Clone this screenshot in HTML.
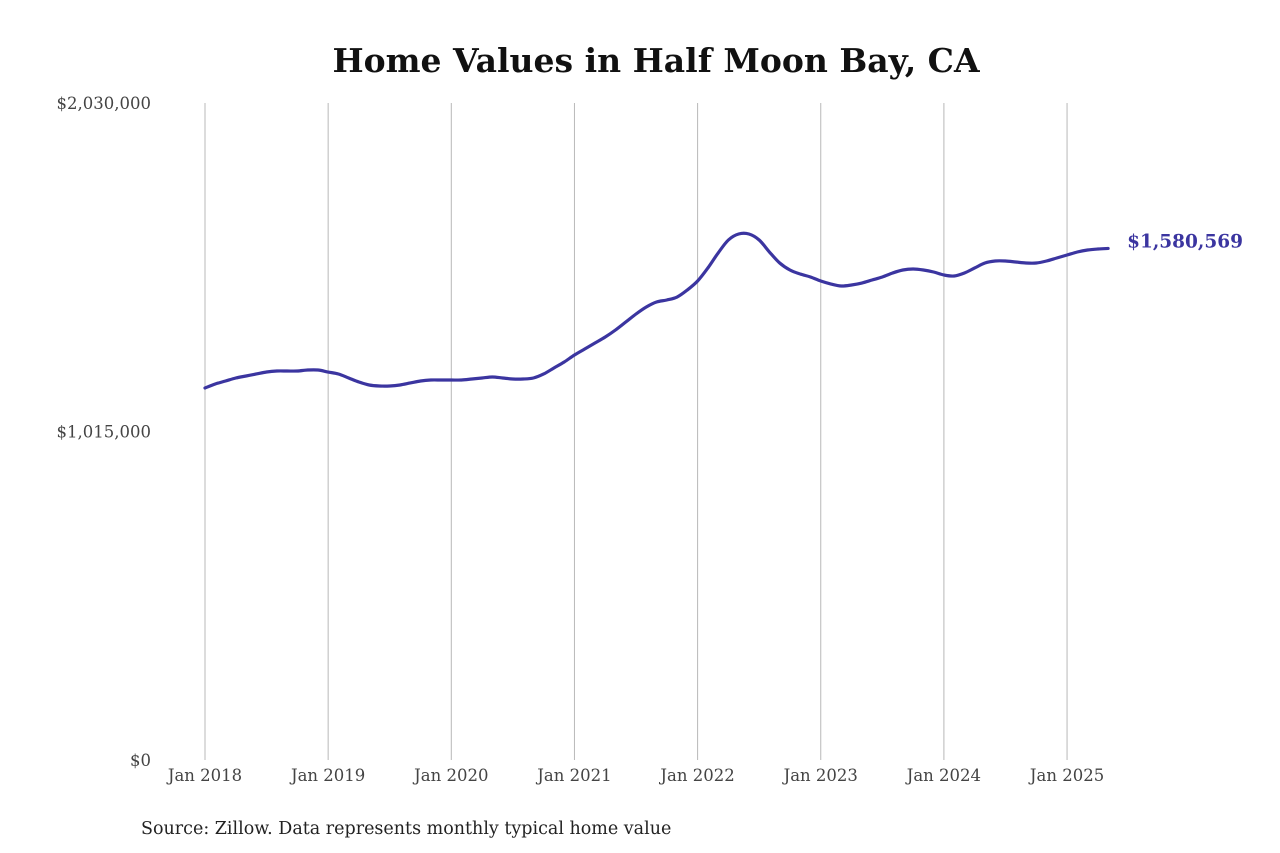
<!DOCTYPE html>
<html><head><meta charset="utf-8"><style>
body{margin:0;background:#fff;}
svg{display:block;font-family:"DejaVu Serif","Liberation Serif",serif;}
</style></head><body>
<svg width="1280" height="853" viewBox="0 0 1280 853">
<text x="656" y="72" text-anchor="middle" font-size="33" font-weight="bold" fill="#111">Home Values in Half Moon Bay, CA</text>
<g id="grid"></g>
<g id="yaxis"></g>
<g id="xaxis"></g>
<path id="line" fill="none" stroke="#3b35a0" stroke-width="3.2" stroke-linejoin="round" stroke-linecap="round"></path>
<text id="endlabel" font-size="18.5" font-weight="bold" fill="#3b35a0"></text>
<text x="141" y="834" font-size="17.5" fill="#222">Source: Zillow. Data represents monthly typical home value</text>
</svg>
<script>
const startYear = 2018;
const xTickLabels = ["Jan 2018","Jan 2019","Jan 2020","Jan 2021","Jan 2022","Jan 2023","Jan 2024","Jan 2025"];
const yTickValues = [0, 1015000, 2030000];
const yTickLabels = ["$0","$1,015,000","$2,030,000"];
const values = [
1149.4,1161.8,1171.0,1180.3,1186.5,1192.7,1198.8,1201.9,1201.9,1201.9,1205.0,1205.0,
1198.8,1192.7,1180.3,1167.9,1158.7,1155.6,1155.6,1158.7,1164.9,1171.0,1174.1,1174.1,
1174.1,1174.1,1177.2,1180.3,1183.4,1180.3,1177.2,1177.2,1180.3,1192.7,1211.2,1229.7,
1251.4,1269.9,1288.4,1307.0,1328.6,1353.3,1378.1,1399.7,1415.1,1421.3,1430.5,1452.3,
1480.0,1520.2,1566.5,1606.7,1625.2,1625.2,1606.7,1569.6,1535.6,1514.0,1501.6,1492.4,
1480.0,1470.7,1464.6,1467.7,1473.8,1483.1,1492.4,1504.7,1514.0,1517.1,1514.0,1507.8,
1498.6,1495.5,1504.7,1520.2,1535.6,1541.8,1541.8,1538.7,1535.6,1535.6,1541.8,1551.1,
1560.3,1569.6,1575.8,1578.9,1580.569
];
const latestLabel = "$1,580,569";
const NS="http://www.w3.org/2000/svg";
const x0=205, yearW=123.15, yBase=760, yTop=103, yMax=2030000;
const xs=i=>x0+i*yearW/12;
const ys=v=>yBase-(v/yMax)*(yBase-yTop);
const grid=document.getElementById('grid'), xa=document.getElementById('xaxis'), ya=document.getElementById('yaxis');
xTickLabels.forEach((lab,k)=>{
  const x=xs(k*12);
  const l=document.createElementNS(NS,'line');
  l.setAttribute('x1',x);l.setAttribute('x2',x);l.setAttribute('y1',yTop);l.setAttribute('y2',yBase);
  l.setAttribute('stroke','#b8b8b8');l.setAttribute('stroke-width','1');
  
  
  grid.appendChild(l);
  const t=document.createElementNS(NS,'text');
  t.setAttribute('x',x);t.setAttribute('y',781);t.setAttribute('text-anchor','middle');
  t.setAttribute('font-size','16.5');t.setAttribute('fill','#444');t.textContent=lab;
  
  
  xa.appendChild(t);
});
yTickValues.forEach((v,k)=>{
  const t=document.createElementNS(NS,'text');
  t.setAttribute('x',151);t.setAttribute('y',ys(v)+6);t.setAttribute('text-anchor','end');
  t.setAttribute('font-size','16.5');t.setAttribute('fill','#444');t.textContent=yTickLabels[k];
  
  
  ya.appendChild(t);
});
const pts=values.map((v,i)=>[xs(i),ys(v*1000)]);
let d=`M${pts[0][0]},${pts[0][1]}`;
for(let i=0;i<pts.length-1;i++){
  const p0=pts[Math.max(0,i-1)],p1=pts[i],p2=pts[i+1],p3=pts[Math.min(pts.length-1,i+2)];
  const c1=[p1[0]+(p2[0]-p0[0])/6,p1[1]+(p2[1]-p0[1])/6];
  const c2=[p2[0]-(p3[0]-p1[0])/6,p2[1]-(p3[1]-p1[1])/6];
  d+=` C${c1[0]},${c1[1]} ${c2[0]},${c2[1]} ${p2[0]},${p2[1]}`;
}
document.getElementById('line').setAttribute('d',d);
const last=pts[pts.length-1];
const el=document.getElementById('endlabel');
el.setAttribute('x',last[0]+19);el.setAttribute('y',last[1]-1);el.textContent=latestLabel;
</script>
</body></html>
